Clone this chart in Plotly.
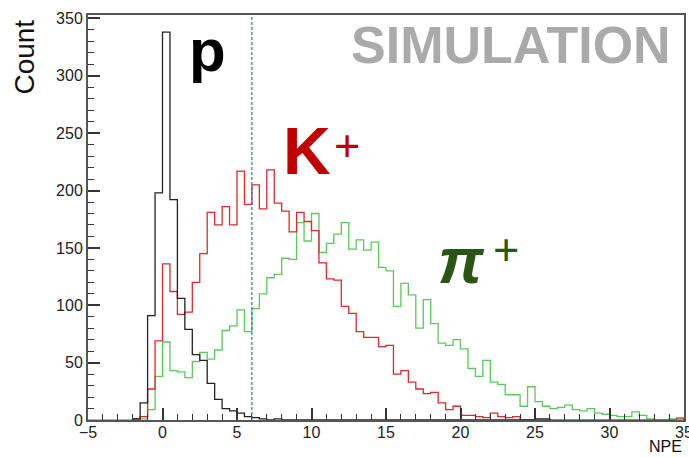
import numpy as np
import plotly.graph_objects as go

# NPE histograms, bin width 0.5
BIN_W = 0.5

# proton: bins start at -2, end at 26
p_start = -2.0
p_counts = [1, 15, 91, 198, 338, 192, 106, 79, 57, 52,
            32, 18, 10, 8, 6, 3, 2, 1, 0, 1,
            0, 0, 0, 0, 0, 0, 0, 0, 0, 0,
            0, 0, 0, 0, 0, 0, 0, 0, 0, 0,
            0, 0, 0, 0, 0, 0, 0, 0, 0, 0,
            0, 0, 0, 0, 1, 1]

# kaon: bins start at -2, end at 35
k_start = -2.0
k_counts = [1, 3, 27, 69, 136, 112, 92, 94, 120, 145,
            181, 170, 186, 170, 217, 188, 205, 184, 218, 189,
            182, 164, 181, 173, 165, 137, 123, 122, 99, 93,
            77, 72, 72, 64, 65, 40, 43, 33, 27, 23,
            24, 15, 9, 12, 4, 4, 3, 2, 6, 3,
            2, 3, 0, 0, 0, 0, 0, 0, 0, 0,
            0, 0, 0, 0, 0, 0, 0, 0, 0, 0,
            0, 0, 0, 1]

# pion: bins start at -5, end at 35
pi_start = -5.0
pi_counts = [0, 0, 0, 0, 0, 0,
             0, 1, 9, 38, 68, 43, 42, 37, 51, 59,
             53, 61, 78, 82, 96, 77, 97, 110, 124, 127,
             141, 140, 172, 156, 180, 146, 154, 162, 172, 149,
             157, 148, 155, 133, 130, 99, 119, 109, 80, 105,
             84, 67, 65, 70, 62, 45, 38, 52, 33, 31,
             22, 22, 12, 29, 16, 12, 10, 11, 13, 9,
             8, 10, 6, 5, 4, 3, 3, 7, 4, 1,
             0, 0, 1, 2]

CUT_NPE = 6.0

FONT = "Liberation Sans, Arial, Helvetica, sans-serif"


def step_outline(start, counts):
    """Outline of a histogram as (x, y) points for an 'hv' step line."""
    counts = np.asarray(counts, dtype=float)
    edges = start + BIN_W * np.arange(len(counts) + 1)
    xs = np.concatenate([[edges[0]], edges[:-1], [edges[-1]]])
    ys = np.concatenate([[0.0], counts, [0.0]])
    return xs, ys


fig = go.Figure()

for start, counts, color in [
    (pi_start, pi_counts, "#5cc85c"),
    (k_start, k_counts, "#e0282a"),
    (p_start, p_counts, "#222222"),
]:
    xs, ys = step_outline(start, counts)
    fig.add_trace(go.Scatter(
        x=xs, y=ys, mode="lines",
        line=dict(color=color, width=1.3, shape="hv"),
        showlegend=False, hoverinfo="skip",
    ))

# threshold line
fig.add_shape(type="line", xref="x", yref="paper",
              x0=CUT_NPE, x1=CUT_NPE, y0=0, y1=1,
              line=dict(color="#2a78a8", width=1.2, dash="3px,2px"))

axis_common = dict(
    showgrid=False, zeroline=False, automargin=False,
    showline=True, linecolor="#555555", linewidth=2, mirror=True,
    ticks="inside", ticklen=12, tickwidth=1.5, tickcolor="#333333",
    tickfont=dict(family=FONT, size=16, color="#222222"),
)

fig.update_xaxes(range=[-5, 35], dtick=5, tick0=-5,
                 ticklabeloverflow="allow", ticklabelstandoff=-3,
                 minor=dict(dtick=1, ticks="inside", ticklen=6,
                            tickcolor="#333333", tickwidth=1.2),
                 **axis_common)
fig.update_yaxes(range=[0, 353], dtick=50, tick0=0,
                 minor=dict(dtick=10, ticks="inside", ticklen=6,
                            tickcolor="#333333", tickwidth=1.2),
                 **axis_common)

annotations = [
    dict(text="Count", x=-0.107, y=0.993, xanchor="center", yanchor="top",
         textangle=-90, font=dict(family=FONT, size=28, color="#111111")),
    dict(text="NPE", x=1.0, y=-0.092, xanchor="right", yanchor="bottom",
         font=dict(family=FONT, size=16, color="#111111")),
    dict(text="<b>SIMULATION</b>", x=0.7097, y=0.926, xanchor="center", yanchor="middle",
         font=dict(family=FONT, size=52, color="#aaaaaa")),
    dict(text="<b>p</b>", x=0.200, y=0.913, xanchor="center", yanchor="middle",
         font=dict(family=FONT, size=60, color="#000000")),
    dict(text="<b>K</b>", x=0.368, y=0.664, xanchor="center", yanchor="middle",
         font=dict(family=FONT, size=66, color="#c00000")),
    dict(text="+", x=0.434, y=0.679, xanchor="center", yanchor="middle",
         font=dict(family=FONT, size=45, color="#c00000")),
    dict(text="<b><i>π</i></b>", x=0.627, y=0.392, xanchor="center", yanchor="middle",
         font=dict(family=FONT, size=64, color="#2b5516")),
    dict(text="+", x=0.701, y=0.421, xanchor="center", yanchor="middle",
         font=dict(family=FONT, size=45, color="#2b5516")),
]
for a in annotations:
    a.update(xref="paper", yref="paper", showarrow=False)

fig.update_layout(
    width=689, height=457,
    margin=dict(l=88, r=5, t=15, b=37),
    paper_bgcolor="white", plot_bgcolor="white",
    annotations=annotations,
)

fig.write_html("out.html")
